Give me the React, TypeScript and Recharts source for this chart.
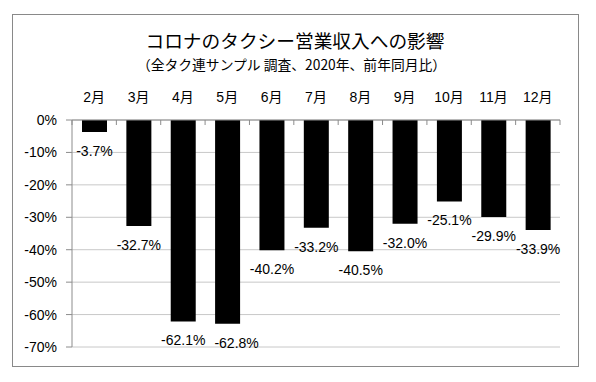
import { BarChart, Bar, XAxis, YAxis, CartesianGrid, LabelList } from "recharts";

const months = ["2月", "3月", "4月", "5月", "6月", "7月", "8月", "9月", "10月", "11月", "12月"];
const changes = [-3.7, -32.7, -62.1, -62.8, -40.2, -33.2, -40.5, -32.0, -25.1, -29.9, -33.9];
const yTicks = [0, -10, -20, -30, -40, -50, -60, -70];

const data = months.map((m, i) => ({ month: m, value: changes[i] }));

const NUM_FONT = "'Liberation Sans', Arial, 'Noto Sans CJK JP', sans-serif";
const JP_FONT = "'Noto Sans CJK JP', 'Liberation Sans', sans-serif";
const AXIS_GRAY = "#8c8c8c";
const X_TICK_MARGIN = 18;
// the 5月 label is nudged right in the original so it doesn't collide with 4月
const LABEL_NUDGE: Record<number, number> = { 3: 9 };

// month labels above the 0% line, with small tick marks between categories
const MonthTick = (props: any) => {
  const { x, y, payload } = props;
  const half = payload?.offset || 22;
  const axisY = y + X_TICK_MARGIN;
  const last = payload.index === months.length - 1;
  return (
    <g>
      <text x={x} y={y} textAnchor="middle" fontSize={14} fontWeight={400} fill="#000" fontFamily={NUM_FONT}>
        {payload.value}
      </text>
      <line x1={x - half} x2={x - half} y1={axisY} y2={axisY + 5} stroke={AXIS_GRAY} />
      {last && <line x1={x + half} x2={x + half} y1={axisY} y2={axisY + 5} stroke={AXIS_GRAY} />}
    </g>
  );
};

const ValueLabel = (props: any) => {
  const { x, y, width, height, value, index } = props;
  const bottom = Math.max(y, y + height);
  const dx = LABEL_NUDGE[index] || 0;
  return (
    <text
      x={x + width / 2 + dx}
      y={bottom + 19}
      textAnchor="middle"
      dominantBaseline="central"
      fontSize={14}
      fill="#000"
      fontFamily={NUM_FONT}
    >
      {value.toFixed(1)}%
    </text>
  );
};

export default function App() {
  return (
    <div style={{ position: "absolute", left: 0, top: 0, width: 596, height: 382, background: "#fff" }}>
      {/* frame */}
      <div
        style={{
          position: "absolute",
          left: 12,
          top: 14,
          width: 567,
          height: 353,
          boxSizing: "border-box",
          border: "1px solid #898989",
        }}
      />
      {/* titles */}
      <div
        style={{
          position: "absolute",
          left: 0,
          width: 590,
          top: 28,
          textAlign: "center",
          fontFamily: JP_FONT,
          fontSize: 18.7,
          lineHeight: "24px",
          color: "#000",
        }}
      >
        コロナのタクシー営業収入への影響
      </div>
      <div
        style={{
          position: "absolute",
          left: 0,
          width: 583,
          top: 54,
          textAlign: "center",
          fontFamily: JP_FONT,
          fontSize: 13.8,
          lineHeight: "20px",
          color: "#000",
        }}
      >
        （全タク連サンプル 調査、2020年、前年同月比）
      </div>

      <div style={{ position: "absolute", left: 0, top: 0 }}>
        <BarChart
          width={596}
          height={382}
          data={data}
          margin={{ top: 100, right: 36, bottom: 35, left: 12 }}
          barSize={25}
        >
          <CartesianGrid vertical={false} stroke="#c8c8c8" />
          <XAxis
            dataKey="month"
            orientation="top"
            height={20}
            axisLine={{ stroke: AXIS_GRAY }}
            tickLine={false}
            tickSize={0}
            tickMargin={X_TICK_MARGIN}
            tick={<MonthTick />}
            interval={0}
          />
          <YAxis
            type="number"
            domain={[-70, 0]}
            ticks={yTicks}
            width={60}
            axisLine={{ stroke: AXIS_GRAY }}
            tickLine={{ stroke: AXIS_GRAY }}
            tickSize={6}
            tickMargin={9}
            tickFormatter={(v: number) => `${v}%`}
            tick={{ fontSize: 14, fill: "#000", fontFamily: NUM_FONT }}
            interval={0}
          />
          <Bar dataKey="value" fill="#000" isAnimationActive={false}>
            <LabelList dataKey="value" content={<ValueLabel />} />
          </Bar>
        </BarChart>
      </div>
    </div>
  );
}
